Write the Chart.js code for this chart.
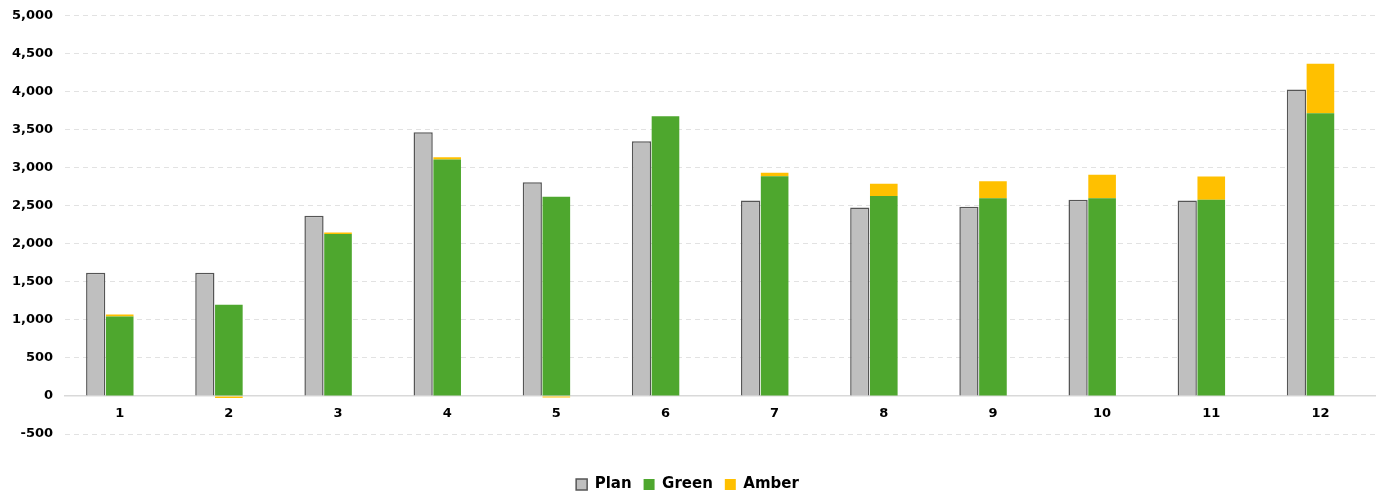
<!DOCTYPE html>
<html>
<head>
<meta charset="utf-8">
<script src="https://cdn.jsdelivr.net/npm/chart.js@4.4.1/dist/chart.umd.min.js"></script>
<style>
  html, body { margin: 0; padding: 0; background: #fff; overflow: hidden; }
  #clip { width: 1387px; height: 491px; overflow: hidden; }
  #wrap { width: 1387px; height: 506px; margin-top: -4px; position: relative; }
</style>
</head>
<body>
<div id="clip"><div id="wrap"><canvas id="chart"></canvas></div></div>
<script>
// categories + series
const months = ['1', '2', '3', '4', '5', '6', '7', '8', '9', '10', '11', '12'];
const planValues  = [1620, 1620, 2370, 3470, 2810, 3350, 2570, 2480, 2490, 2580, 2570, 4030];
const greenValues = [1045, 1200, 2130, 3110, 2620, 3680, 2890, 2630, 2600, 2600, 2580, 3720];
const amberValues = [25, -25, 20, 30, -20, 0, 45, 160, 225, 310, 305, 650];
const yTicks = [-500, 0, 500, 1000, 1500, 2000, 2500, 3000, 3500, 4000, 4500, 5000];

const FONT = "'DejaVu Sans', Arial, sans-serif";

new Chart(document.getElementById('chart').getContext('2d'), {
  type: 'bar',
  data: {
    labels: months,
    datasets: [
      {
        label: 'Plan',
        data: planValues,
        stack: 'plan',
        backgroundColor: '#bfbfbf',
        borderColor: '#555555',
        borderWidth: 1.5,
        borderSkipped: 'bottom',
        barPercentage: 0.8,
        categoryPercentage: 0.66
      },
      {
        label: 'Green',
        data: greenValues,
        stack: 'actual',
        backgroundColor: '#4ea72e',
        borderWidth: 0,
        barPercentage: 1.15,
        categoryPercentage: 0.66
      },
      {
        label: 'Amber',
        data: amberValues,
        stack: 'actual',
        backgroundColor: '#ffc000',
        borderWidth: 0,
        barPercentage: 1.15,
        categoryPercentage: 0.66
      },
      // empty slot so the actual stack sits on the tick like the original
      {
        label: '',
        data: [],
        stack: 'pad',
        backgroundColor: 'rgba(0,0,0,0)',
        categoryPercentage: 0.66
      }
    ]
  },
  options: {
    responsive: true,
    maintainAspectRatio: false,
    animation: false,
    layout: { padding: { top: 0, right: 12, left: 0, bottom: 0 } },
    plugins: {
      tooltip: { enabled: false },
      legend: {
        position: 'bottom',
        title: { display: true, text: ' ', font: { size: 10, lineHeight: 1 }, padding: { top: 21, bottom: 0 } },
        labels: {
          filter: (item) => item.text !== '',
          boxWidth: 11,
          boxHeight: 11,
          padding: 12,
          color: '#000',
          font: { family: FONT, size: 15, weight: 'bold' }
        }
      }
    },
    scales: {
      x: {
        position: { y: 0 },
        grid: { display: false, drawTicks: false },
        border: { display: true, color: '#d9d9d9', width: 1.5 },
        ticks: {
          padding: 10,
          color: '#000',
          font: { family: FONT, size: 13, weight: 'bold' }
        }
      },
      y: {
        stacked: true,
        min: -500,
        max: 5000,
        afterBuildTicks: (axis) => { axis.ticks = yTicks.map(v => ({ value: v })); },
        grid: { color: '#e2e2e2', lineWidth: 1, drawTicks: false },
        border: { display: false, dash: [5, 4] },
        ticks: {
          padding: 12,
          color: '#000',
          font: { family: FONT, size: 13, weight: 'bold' },
          callback: (v) => v.toLocaleString('en-US')
        }
      }
    }
  }
});
</script>
</body>
</html>
